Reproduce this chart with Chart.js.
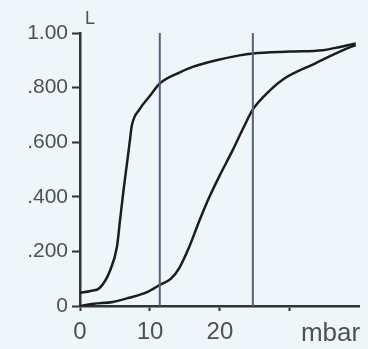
<!DOCTYPE html>
<html><head><meta charset="utf-8">
<script src="https://cdn.jsdelivr.net/npm/chart.js@4"></script>
<style>html,body{margin:0;padding:0;background:#eef6fa;}canvas{display:block;}</style>
</head><body>
<canvas id="c" width="368" height="349"></canvas>
<script>
// Curve A (steep, left)
const curveAX = [0, 1.5, 2.8, 4.3, 5.3, 5.7, 6.2, 6.7, 7.1, 7.4, 8.5, 10, 11.4, 14.2, 16, 19.5, 22.8, 24.7, 30, 34.7, 37, 39.4];
const curveAY = [0.048, 0.055, 0.066, 0.13, 0.22, 0.31, 0.42, 0.52, 0.60, 0.66, 0.72, 0.77, 0.815, 0.855, 0.875, 0.90, 0.918, 0.925, 0.932, 0.937, 0.948, 0.962];
// Curve B (gradual, right)
const curveBX = [0, 2, 4.7, 7, 9.5, 11.4, 13, 14.2, 15.6, 17.1, 18.5, 19.9, 21.8, 23.3, 24.7, 26.2, 29, 33.7, 37.6, 39.4];
const curveBY = [0, 0.008, 0.015, 0.03, 0.05, 0.077, 0.10, 0.14, 0.216, 0.315, 0.40, 0.475, 0.57, 0.65, 0.72, 0.766, 0.83, 0.89, 0.937, 0.956];
// Vertical marker lines (mbar)
const markerX = [11.4, 24.7];
// Tick values and labels
const yTickValues = [0, 0.2, 0.4, 0.6, 0.8, 1.0];
const yTickLabels = ["0", ".200", ".400", ".600", ".800", "1.00"];
const xTickValues = [0, 10, 20, 30, 35.8];
const xTickLabels = ["0", "10", "20", "", "mbar"];
const yAxisTitle = "L";

const toPts = (xs, ys) => xs.map((x, i) => ({x, y: ys[i]}));
const FONT = "'Liberation Sans', Arial, sans-serif";
const TXT = '#505050';
const UNIT_TICK = xTickValues[xTickValues.length - 1];

const datasets = [
  ...markerX.map(m => ({data: [{x: m, y: 0}, {x: m, y: 1}], borderColor: '#55627e', borderWidth: 2, pointRadius: 0, tension: 0})),
  {data: toPts(curveAX, curveAY), borderColor: '#1c1c1c', borderWidth: 2.5, pointRadius: 0, cubicInterpolationMode: 'monotone'},
  {data: toPts(curveBX, curveBY), borderColor: '#1c1c1c', borderWidth: 2.5, pointRadius: 0, cubicInterpolationMode: 'monotone'}
];

const bgPlugin = {
  id: 'bg',
  beforeDraw(chart) {
    const ctx = chart.ctx;
    ctx.save();
    ctx.fillStyle = '#eef6fa';
    ctx.fillRect(0, 0, chart.width, chart.height);
    ctx.restore();
  },
  afterDraw(chart) {
    const ctx = chart.ctx;
    const y = chart.scales.y, x = chart.scales.x;
    ctx.save();
    ctx.fillStyle = TXT;
    ctx.font = '18px ' + FONT;
    ctx.textAlign = 'left';
    ctx.textBaseline = 'middle';
    ctx.fillText(yAxisTitle, x.getPixelForValue(0) + 5, y.getPixelForValue(1) - 14);
    ctx.restore();
  }
};

new Chart(document.getElementById('c'), {
  type: 'line',
  data: {datasets},
  plugins: [bgPlugin],
  options: {
    responsive: false,
    animation: false,
    events: [],
    layout: {padding: {top: 33, right: 8, bottom: 0, left: 0}},
    plugins: {legend: {display: false}, tooltip: {enabled: false}},
    scales: {
      x: {
        type: 'linear', min: 0, max: 40,
        afterFit: s => { s.height = 43; },
        afterBuildTicks: s => { s.ticks = xTickValues.map(v => ({value: v})); },
        ticks: {
          autoSkip: false, maxRotation: 0, padding: 7,
          color: TXT,
          font: ctx => ({family: FONT, size: (ctx.tick && ctx.tick.value === UNIT_TICK) ? 26 : 24}),
          callback: (v) => { const i = xTickValues.indexOf(v); return i >= 0 ? xTickLabels[i] : ''; }
        },
        grid: {drawOnChartArea: false, tickLength: 5, tickWidth: 2,
          tickColor: ctx => (ctx.tick && ctx.tick.value === UNIT_TICK) ? 'rgba(0,0,0,0)' : '#333'},
        border: {color: '#333', width: 2.5}
      },
      y: {
        type: 'linear', min: 0, max: 1,
        afterFit: s => { s.width = 80; },
        afterBuildTicks: s => { s.ticks = yTickValues.map(v => ({value: v})); },
        ticks: {
          autoSkip: false, padding: 4,
          color: TXT, font: {family: FONT, size: 21},
          callback: (v) => { const i = yTickValues.findIndex(t => Math.abs(t - v) < 1e-9); return i >= 0 ? yTickLabels[i] : ''; }
        },
        grid: {drawOnChartArea: false, tickLength: 8, tickWidth: 2, tickColor: '#333'},
        border: {color: '#333', width: 2.5}
      }
    }
  }
});
</script>
</body></html>
